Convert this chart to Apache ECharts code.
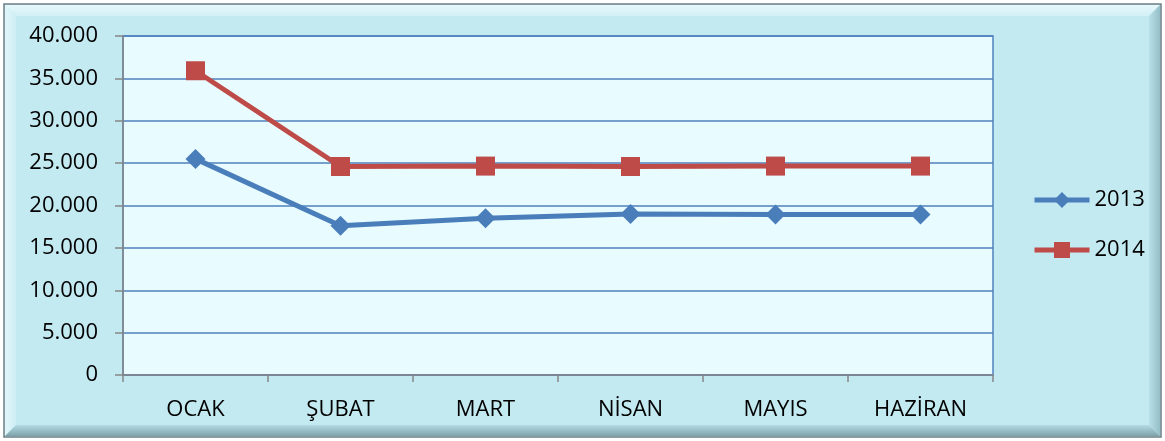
<!DOCTYPE html>
<html>
<head>
<meta charset="utf-8">
<script src="https://cdn.jsdelivr.net/npm/echarts@6/dist/echarts.min.js"></script>
<style>
html,body{margin:0;padding:0;background:#ffffff;}
#c{width:1165px;height:441px;}
</style>
</head>
<body>
<div id="c"></div>
<script>
var categories = ['OCAK', 'ŞUBAT', 'MART', 'NİSAN', 'MAYIS', 'HAZİRAN'];
var values2013 = [25500, 17600, 18500, 19000, 18950, 18950];
var values2014 = [35900, 24600, 24650, 24600, 24650, 24650];
var seriesNames = ['2013', '2014'];
var yTicks = { min: 0, max: 40000, interval: 5000 };

var W = 1165, H = 441;
var chart = echarts.init(document.getElementById('c'), null, {renderer: 'canvas'});
var b = 12; // bevel width
var x0 = 4, y0 = 4, x1 = W - 4, y1 = H - 4;
var FONT = 'Open Sans';
var option = {
  backgroundColor: '#ffffff',
  animation: false,
  graphic: [
    {type: 'rect', z: -10, shape: {x: x0, y: y0, width: x1 - x0, height: y1 - y0},
     style: {fill: '#c3e9f1', stroke: '#6d7f86', lineWidth: 1.5}},
    {type: 'polygon', z: -9, shape: {points: [[x0+1, y0+1], [x1-1, y0+1], [x1-b, y0+b], [x0+b, y0+b]]},
     style: {fill: new echarts.graphic.LinearGradient(0, 0, 0, 1, [{offset: 0, color: '#e6f8fb'}, {offset: 1, color: '#d2f0f6'}])}},
    {type: 'polygon', z: -9, shape: {points: [[x0+1, y0+1], [x0+b, y0+b], [x0+b, y1-b], [x0+1, y1-1]]},
     style: {fill: new echarts.graphic.LinearGradient(0, 0, 1, 0, [{offset: 0, color: '#e2f6fa'}, {offset: 1, color: '#cdeef5'}])}},
    {type: 'polygon', z: -9, shape: {points: [[x1-1, y0+1], [x1-1, y1-1], [x1-b, y1-b], [x1-b, y0+b]]},
     style: {fill: new echarts.graphic.LinearGradient(0, 0, 1, 0, [{offset: 0, color: '#b8e0e8'}, {offset: 1, color: '#95bfc8'}])}},
    {type: 'polygon', z: -9, shape: {points: [[x0+1, y1-1], [x0+b, y1-b], [x1-b, y1-b], [x1-1, y1-1]]},
     style: {fill: new echarts.graphic.LinearGradient(0, 0, 0, 1, [{offset: 0, color: '#b3dce5'}, {offset: 1, color: '#7fa3ab'}])}}
  ],
  grid: {
    left: 123, right: 172, top: 36, bottom: 66,
    show: true, backgroundColor: '#e8fbfe', borderColor: '#4f81bd', borderWidth: 1.5
  },
  legend: {
    orient: 'vertical',
    left: 1027, top: 184,
    itemGap: 28,
    itemWidth: 55, itemHeight: 20,
    itemTextGap: 5,
    lineStyle: {width: 5},
    textStyle: {fontFamily: FONT, fontSize: 22, color: '#000'},
    data: seriesNames
  },
  xAxis: {
    type: 'category',
    data: categories,
    boundaryGap: true,
    axisLine: {lineStyle: {color: '#868686', width: 1.5}},
    axisTick: {show: true, interval: 0, length: 7, lineStyle: {color: '#868686', width: 1.5}},
    axisLabel: {margin: 24, fontFamily: FONT, fontSize: 22, color: '#000', interval: 0},
    splitLine: {show: false}
  },
  yAxis: {
    type: 'value',
    min: yTicks.min, max: yTicks.max, interval: yTicks.interval,
    axisLine: {show: true, lineStyle: {color: '#868686', width: 1.5}},
    axisTick: {show: true, length: 8, lineStyle: {color: '#868686', width: 1.5}},
    axisLabel: {
      margin: 25, fontFamily: FONT, fontSize: 22, color: '#000',
      formatter: function (v) { return v === 0 ? '0' : (v / 1000).toFixed(3); }
    },
    splitLine: {show: true, lineStyle: {color: '#4f81bd', width: 1.5}}
  },
  series: [
    {
      name: seriesNames[0], type: 'line', data: values2013,
      symbol: 'diamond', symbolSize: 20, showAllSymbol: true,
      lineStyle: {color: '#4a7ebb', width: 5},
      itemStyle: {color: '#4a7ebb'}
    },
    {
      name: seriesNames[1], type: 'line', data: values2014,
      symbol: 'rect', symbolSize: 19, showAllSymbol: true,
      lineStyle: {color: '#be4b48', width: 5},
      itemStyle: {color: '#be4b48'}
    }
  ]
};
chart.setOption(option);
</script>
</body>
</html>
